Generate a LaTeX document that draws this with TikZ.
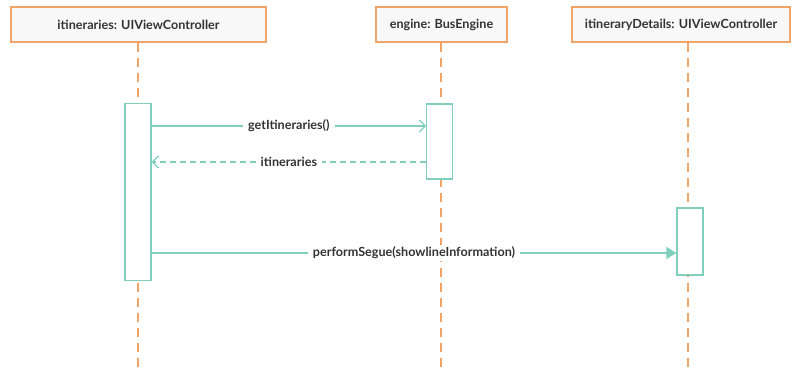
\documentclass[tikz,border=0pt]{standalone}
\usepackage{fontspec}
\setmainfont{Lato}
\usetikzlibrary{arrows.meta}
\definecolor{lifeor}{HTML}{F0A468}
\definecolor{boxfill}{HTML}{F8F8F8}
\definecolor{teal1}{HTML}{80CFBC}
\definecolor{txt}{HTML}{333333}
\tikzset{
  objbox/.style={draw=lifeor, line width=1.4pt, fill=boxfill, minimum height=35pt, inner sep=0pt, text=txt, font=\bfseries\fontsize{12.6}{14}\selectfont},
  lifeline/.style={draw=lifeor, line width=1.2pt, dash pattern=on 9pt off 6pt},
  actbox/.style={draw=teal1, line width=1.3pt, fill=white, inner sep=0pt},
  msg/.style={draw=teal1, line width=1.3pt},
  lbl/.style={fill=white, text=txt, font=\bfseries\fontsize{12.6}{14}\selectfont, inner xsep=5pt, inner ysep=2pt}
}
\begin{document}
\begin{tikzpicture}[x=1pt,y=-1pt]
\useasboundingbox (0,0) rectangle (792,370);
% object boxes
\node[objbox, minimum width=255pt] (o1) at (138.5,24.5) {itineraries: UIViewController};
\node[objbox, minimum width=131pt] (o2) at (441.5,24.5) {engine: BusEngine};
\node[objbox, minimum width=218pt] (o3) at (681,24.5) {itineraryDetails: UIViewController};
% lifeline ends
\coordinate (e1) at (138,372);
\coordinate (e2) at (441,372);
\coordinate (e3) at (688,372);
\draw[lifeline] (138,42.7) -- (e1);
\draw[lifeline] (441,42.7) -- (e2);
\draw[lifeline] (688,42.7) -- (e3);
% activation boxes
\node[actbox, minimum width=26pt, minimum height=177pt] (a1) at (138,192) {};
\node[actbox, minimum width=25.5pt, minimum height=75pt] (a2) at (439.5,141.5) {};
\node[actbox, minimum width=26pt, minimum height=67pt] (a3) at (690,241.5) {};
% messages
\coordinate (m1s) at (a1.east |- 0,126);
\coordinate (m1e) at (a2.west |- 0,126);
\draw[msg, -{Straight Barb[length=6pt,width=12pt,line width=1.3pt]}] (m1s) -- node[lbl] {getItineraries()} (m1e);
\coordinate (m2s) at (a2.west |- 0,162);
\coordinate (m2e) at (a1.east |- 0,162);
\draw[msg, dash pattern=on 6pt off 4pt, -{Straight Barb[length=6pt,width=12pt,line width=1.3pt]}] (m2s) -- node[lbl] {itineraries} (m2e);
\coordinate (m3s) at (a1.east |- 0,253);
\coordinate (m3e) at (a3.west |- 0,253);
\draw[msg, -{Triangle[length=10pt,width=12pt]}, fill=teal1] (m3s) -- node[lbl] {performSegue(showlineInformation)} (m3e);
\end{tikzpicture}
\end{document}
